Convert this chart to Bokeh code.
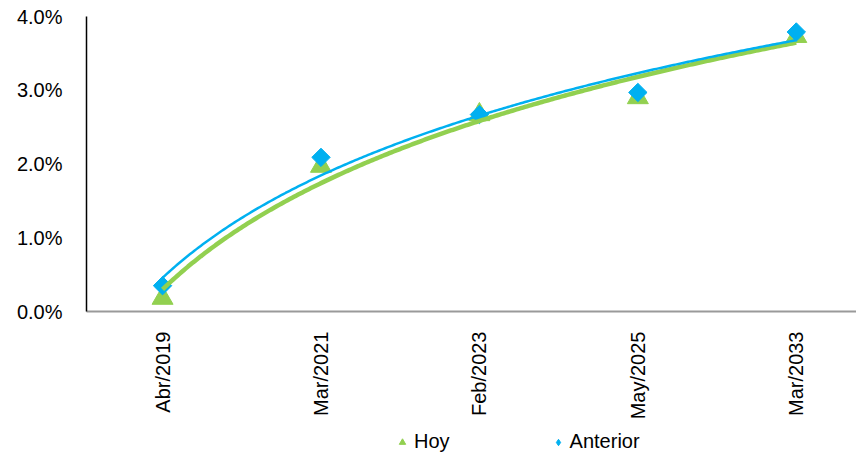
import numpy as np
from bokeh.plotting import figure
from bokeh.layouts import column
from bokeh.models import (Range1d, FixedTicker, PrintfTickFormatter, Legend, LegendItem, Label)
from bokeh.embed import file_html
from bokeh.resources import INLINE

# ---- data ----
categories = ["Abr/2019", "Mar/2021", "Feb/2023", "May/2025", "Mar/2033"]
hoy = [0.18, 1.97, 2.67, 2.90, 3.73]        # %
anterior = [0.35, 2.09, 2.67, 2.97, 3.79]   # %
y_ticks = [0, 1, 2, 3, 4]
series_names = ["Hoy", "Anterior"]
title_text = "TES UVR"

GREEN = "#92D050"
BLUE = "#00B0F0"
FONT = "Liberation Sans"

idx = np.arange(len(categories))

def log_trend(vals):
    n = np.arange(1, len(vals) + 1)
    a, b = np.polyfit(np.log(n), np.array(vals), 1)
    xs = np.linspace(1, len(vals), 300)
    return xs - 1, a * np.log(xs) + b

p = figure(width=856, height=430, output_backend="svg", toolbar_location=None,
           x_range=Range1d(-0.48, 4.38), y_range=Range1d(0, 4),
           min_border_left=86, min_border_right=0, min_border_top=24,
           min_border_bottom=107)
p.outline_line_color = None
p.background_fill_color = "white"
p.border_fill_color = "white"
p.grid.visible = False

p.scatter(idx, hoy, marker="triangle", size=21, color=GREEN, line_color=GREEN)
p.scatter(idx, anterior, marker="square", angle=np.pi / 4, size=13, color=BLUE, line_color=BLUE)

tx, ty = log_trend(hoy)
p.line(tx, ty, color=GREEN, line_width=4.5)
tx2, ty2 = log_trend(anterior)
p.line(tx2, ty2, color=BLUE, line_width=2.5)

# axes
xa = p.xaxis[0]
xa.ticker = FixedTicker(ticks=list(idx))
xa.major_label_overrides = {int(i): c for i, c in zip(idx, categories)}
xa.major_label_orientation = np.pi / 2
xa.major_label_text_font = FONT
xa.major_label_text_font_size = "20px"
xa.major_label_text_color = "black"
xa.major_label_standoff = 14
xa.major_tick_line_color = None
xa.minor_tick_line_color = None
xa.axis_line_color = "#9a9a9a"
xa.axis_line_width = 2

ya = p.yaxis[0]
ya.ticker = FixedTicker(ticks=y_ticks)
ya.formatter = PrintfTickFormatter(format="%.1f%%")
ya.major_label_text_font = FONT
ya.major_label_text_font_size = "20px"
ya.major_label_text_color = "black"
ya.major_label_standoff = 18
ya.major_tick_line_color = None
ya.minor_tick_line_color = None
ya.axis_line_color = "black"
ya.axis_line_width = 1.5

p.add_layout(Label(x=1.75, y=4.19, text=title_text, text_font=FONT, text_font_size="28px",
                   text_font_style="bold", text_align="center", text_baseline="alphabetic",
                   text_color="black"))

# ---- legend strip (series drawn out of view, only their legend glyphs show) ----
lf = figure(width=856, height=35, output_backend="svg", toolbar_location=None,
            x_range=Range1d(100, 101), y_range=Range1d(100, 101),
            x_axis_type=None, y_axis_type=None, min_border=0)
lf.outline_line_color = None
lf.grid.visible = False
lr_h = lf.scatter(idx, hoy, marker="triangle", size=11, color=GREEN, line_color=GREEN)
lr_a = lf.scatter(idx, anterior, marker="diamond", size=10, color=BLUE, line_color=BLUE)
legend = Legend(items=[LegendItem(label=series_names[0], renderers=[lr_h]),
                       LegendItem(label=series_names[1], renderers=[lr_a])],
                orientation="horizontal", location=(308, 4),
                label_text_font=FONT, label_text_font_size="20px", label_text_color="black",
                glyph_width=16, glyph_height=16, label_standoff=4,
                spacing=100, padding=4, margin=0, border_line_color=None,
                background_fill_alpha=0)
lf.add_layout(legend)

layout = column(p, lf, spacing=0, styles={"margin-top": "-8px"})

open("out.html", "w").write(file_html(layout, INLINE))
